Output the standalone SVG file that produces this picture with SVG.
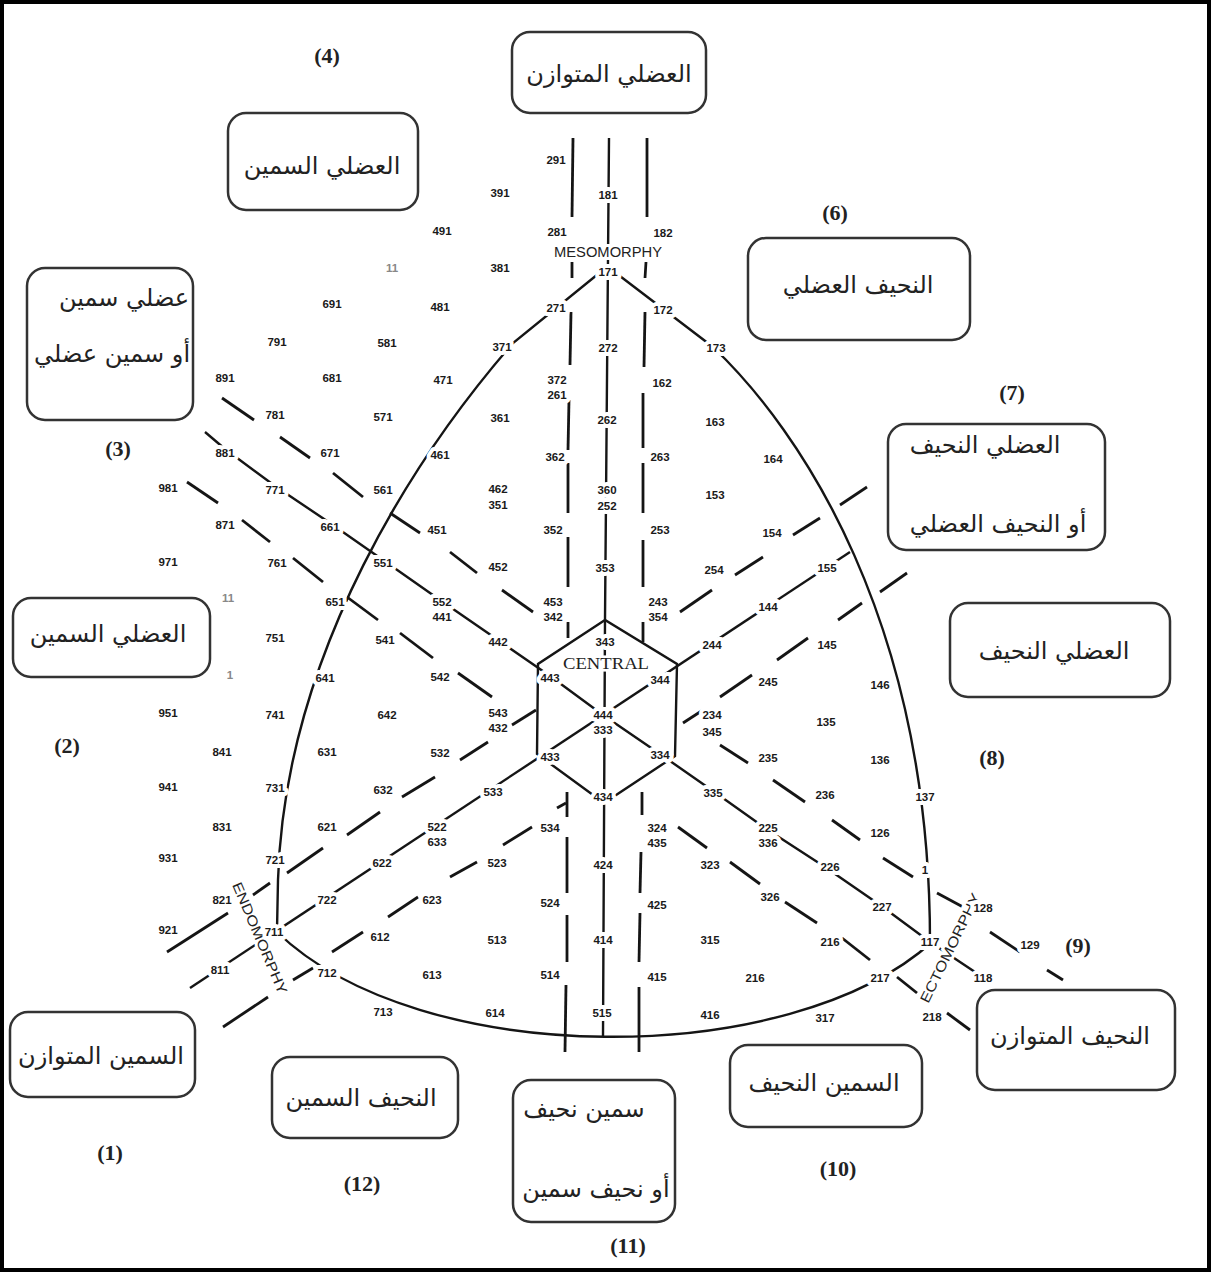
<svg xmlns="http://www.w3.org/2000/svg" width="1211" height="1272" viewBox="0 0 1211 1272">
<style>
.bg{fill:#fff}
.frame{fill:none;stroke:#000;stroke-width:4}
.box{fill:#fff;stroke:#333;stroke-width:2.5}
.ar{font-family:"DejaVu Sans",sans-serif;font-size:24px;fill:#222;text-anchor:middle}
.pn{font-family:"Liberation Serif",serif;font-weight:bold;font-size:22px;fill:#222;text-anchor:middle}
.ln{fill:none;stroke:#151515;stroke-width:2.4}
.dl line{stroke:#151515;stroke-width:2.8}
.n{font-family:"Liberation Sans",Arial,sans-serif;font-weight:bold;font-size:11.5px;fill:#1a1a1a;text-anchor:middle;stroke:#fff;stroke-width:8;paint-order:stroke;stroke-linejoin:round}
.f{fill:#888}
.cap{font-family:"Liberation Sans",Arial,sans-serif;font-size:14px;fill:#222;text-anchor:middle;stroke:#fff;stroke-width:6;paint-order:stroke}
.cen{font-family:"Liberation Serif",serif;font-size:17px;fill:#222;text-anchor:middle;stroke:#fff;stroke-width:5;paint-order:stroke}
</style>
<rect class="bg" x="0" y="0" width="1211" height="1272"/>
<rect class="frame" x="2" y="2" width="1207" height="1268"/>

<g id="connectors">
  <path class="ln" d="M603,270 L513,343 C420,450 285,650 278,880 L277,930"/>
  <path class="ln" d="M612,270 L713,347 C800,430 930,620 930,942"/>
  <path class="ln" d="M277,932 C420,1070 790,1070 932,942"/>
  <path class="ln" d="M609,138 L605,620 L603,1037"/>
  <path class="ln" d="M190,988 L850,552"/>
  <path class="ln" d="M205,432 L225,449 L275,486 L330,523 L383,560 L440,600 L498,640 L550,676 L603,715 L660,754 L713,791 L768,830 L825,867 L880,905 L930,942 L975,972"/>
  <path class="ln" d="M605,620 L538,664 L537,754 L604,803 L675,756 L677,664 Z"/>
  <g class="dl">
    <line x1="573" y1="138" x2="572" y2="217"/><line x1="572" y1="262" x2="572" y2="278"/>
    <line x1="571" y1="312" x2="570" y2="365"/><line x1="569" y1="400" x2="568" y2="450"/>
    <line x1="568" y1="463" x2="568" y2="513"/><line x1="568" y1="537" x2="568" y2="587"/>
    <line x1="568" y1="622" x2="568" y2="638"/><line x1="567" y1="792" x2="567" y2="817"/>
    <line x1="567" y1="837" x2="567" y2="893"/><line x1="567" y1="915" x2="567" y2="962"/>
    <line x1="566" y1="985" x2="565" y2="1052"/>
    <line x1="647" y1="138" x2="647" y2="217"/><line x1="646" y1="262" x2="645" y2="278"/>
    <line x1="645" y1="312" x2="644" y2="367"/><line x1="643" y1="393" x2="643" y2="448"/>
    <line x1="643" y1="463" x2="643" y2="513"/><line x1="643" y1="540" x2="643" y2="587"/>
    <line x1="643" y1="622" x2="643" y2="642"/><line x1="642" y1="792" x2="642" y2="815"/>
    <line x1="641" y1="852" x2="640" y2="893"/><line x1="640" y1="913" x2="639" y2="962"/>
    <line x1="639" y1="987" x2="639" y2="1052"/>
    <line x1="167" y1="952" x2="228" y2="913"/><line x1="253" y1="895" x2="270" y2="883"/>
    <line x1="287" y1="873" x2="323" y2="848"/><line x1="347" y1="835" x2="380" y2="812"/>
    <line x1="402" y1="797" x2="435" y2="777"/><line x1="460" y1="760" x2="488" y2="742"/>
    <line x1="512" y1="725" x2="536" y2="710"/><line x1="680" y1="612" x2="712" y2="590"/>
    <line x1="735" y1="575" x2="763" y2="557"/><line x1="793" y1="535" x2="820" y2="518"/>
    <line x1="840" y1="505" x2="867" y2="487"/>
    <line x1="223" y1="1027" x2="268" y2="997"/><line x1="293" y1="980" x2="313" y2="968"/>
    <line x1="332" y1="952" x2="363" y2="932"/><line x1="388" y1="917" x2="418" y2="897"/>
    <line x1="450" y1="877" x2="477" y2="862"/><line x1="503" y1="845" x2="532" y2="827"/>
    <line x1="557" y1="808" x2="566" y2="803"/><line x1="683" y1="723" x2="703" y2="710"/>
    <line x1="720" y1="697" x2="752" y2="675"/><line x1="777" y1="660" x2="808" y2="638"/>
    <line x1="838" y1="620" x2="862" y2="603"/><line x1="880" y1="592" x2="907" y2="573"/>
    <line x1="222" y1="398" x2="254" y2="420"/><line x1="280" y1="437" x2="310" y2="458"/>
    <line x1="333" y1="473" x2="363" y2="497"/><line x1="390" y1="513" x2="420" y2="533"/>
    <line x1="450" y1="552" x2="477" y2="573"/><line x1="502" y1="590" x2="533" y2="612"/>
    <line x1="720" y1="745" x2="748" y2="763"/><line x1="773" y1="780" x2="805" y2="802"/>
    <line x1="832" y1="820" x2="860" y2="840"/><line x1="883" y1="858" x2="913" y2="877"/>
    <line x1="937" y1="893" x2="963" y2="907"/><line x1="990" y1="932" x2="1020" y2="952"/>
    <line x1="1047" y1="970" x2="1063" y2="980"/>
    <line x1="187" y1="482" x2="218" y2="503"/><line x1="242" y1="520" x2="270" y2="542"/>
    <line x1="293" y1="558" x2="323" y2="582"/><line x1="347" y1="597" x2="378" y2="620"/>
    <line x1="400" y1="633" x2="433" y2="658"/><line x1="458" y1="673" x2="492" y2="697"/>
    <line x1="678" y1="827" x2="707" y2="848"/><line x1="730" y1="862" x2="760" y2="884"/>
    <line x1="785" y1="902" x2="817" y2="923"/><line x1="842" y1="938" x2="870" y2="960"/>
    <line x1="897" y1="977" x2="917" y2="993"/><line x1="947" y1="1013" x2="970" y2="1030"/>
  </g>
</g>

<g id="axis-titles">
  <text class="cap" x="608" y="257" textLength="108" lengthAdjust="spacingAndGlyphs">MESOMORPHY</text>
  <text class="cen" x="606" y="669" textLength="86" lengthAdjust="spacingAndGlyphs">CENTRAL</text>
  <text class="cap" x="0" y="0" transform="translate(260,938) rotate(67)" dy="5" textLength="120" lengthAdjust="spacingAndGlyphs">ENDOMORPHY</text>
  <text class="cap" x="0" y="0" transform="translate(950,948) rotate(-64)" dy="5" textLength="120" lengthAdjust="spacingAndGlyphs">ECTOMORPHY</text>
</g>

<g id="somatotype-labels">
<text class="n" x="556" y="164">291</text><text class="n" x="500" y="197">391</text><text class="n" x="608" y="199">181</text>
<text class="n" x="442" y="235">491</text><text class="n" x="557" y="236">281</text><text class="n" x="663" y="237">182</text>
<text class="n f" x="392" y="272">11</text><text class="n" x="500" y="272">381</text><text class="n" x="608" y="276">171</text>
<text class="n" x="332" y="308">691</text><text class="n" x="440" y="311">481</text><text class="n" x="556" y="312">271</text><text class="n" x="663" y="314">172</text>
<text class="n" x="277" y="346">791</text><text class="n" x="387" y="347">581</text><text class="n" x="502" y="351">371</text><text class="n" x="608" y="352">272</text><text class="n" x="716" y="352">173</text>
<text class="n" x="225" y="382">891</text><text class="n" x="332" y="382">681</text><text class="n" x="443" y="384">471</text><text class="n" x="557" y="384">372</text><text class="n" x="557" y="399">261</text><text class="n" x="662" y="387">162</text>
<text class="n" x="275" y="419">781</text><text class="n" x="383" y="421">571</text><text class="n" x="500" y="422">361</text><text class="n" x="607" y="424">262</text><text class="n" x="715" y="426">163</text>
<text class="n" x="225" y="457">881</text><text class="n" x="330" y="457">671</text><text class="n" x="440" y="459">461</text><text class="n" x="555" y="461">362</text><text class="n" x="660" y="461">263</text><text class="n" x="773" y="463">164</text>
<text class="n" x="168" y="492">981</text><text class="n" x="275" y="494">771</text><text class="n" x="383" y="494">561</text><text class="n" x="498" y="493">462</text><text class="n" x="498" y="509">351</text><text class="n" x="607" y="494">360</text><text class="n" x="607" y="510">252</text><text class="n" x="715" y="499">153</text>
<text class="n" x="225" y="529">871</text><text class="n" x="330" y="531">661</text><text class="n" x="437" y="534">451</text><text class="n" x="553" y="534">352</text><text class="n" x="660" y="534">253</text><text class="n" x="772" y="537">154</text>
<text class="n" x="168" y="566">971</text><text class="n" x="277" y="567">761</text><text class="n" x="383" y="567">551</text><text class="n" x="498" y="571">452</text><text class="n" x="605" y="572">353</text><text class="n" x="714" y="574">254</text><text class="n" x="827" y="572">155</text>
<text class="n f" x="228" y="602">11</text><text class="n" x="335" y="606">651</text><text class="n" x="442" y="606">552</text><text class="n" x="442" y="621">441</text><text class="n" x="553" y="606">453</text><text class="n" x="553" y="621">342</text><text class="n" x="658" y="606">243</text><text class="n" x="658" y="621">354</text><text class="n" x="768" y="611">144</text>
<text class="n" x="275" y="642">751</text><text class="n" x="385" y="644">541</text><text class="n" x="498" y="646">442</text><text class="n" x="605" y="646">343</text><text class="n" x="712" y="649">244</text><text class="n" x="827" y="649">145</text>
<text class="n f" x="230" y="679">1</text><text class="n" x="325" y="682">641</text><text class="n" x="440" y="681">542</text><text class="n" x="550" y="682">443</text><text class="n" x="660" y="684">344</text><text class="n" x="768" y="686">245</text><text class="n" x="880" y="689">146</text>
<text class="n" x="168" y="717">951</text><text class="n" x="275" y="719">741</text><text class="n" x="387" y="719">642</text><text class="n" x="498" y="717">543</text><text class="n" x="498" y="732">432</text><text class="n" x="603" y="719">444</text><text class="n" x="603" y="734">333</text><text class="n" x="712" y="719">234</text><text class="n" x="712" y="736">345</text><text class="n" x="826" y="726">135</text>
<text class="n" x="222" y="756">841</text><text class="n" x="327" y="756">631</text><text class="n" x="440" y="757">532</text><text class="n" x="550" y="761">433</text><text class="n" x="660" y="759">334</text><text class="n" x="768" y="762">235</text><text class="n" x="880" y="764">136</text>
<text class="n" x="168" y="791">941</text><text class="n" x="275" y="792">731</text><text class="n" x="383" y="794">632</text><text class="n" x="493" y="796">533</text><text class="n" x="603" y="801">434</text><text class="n" x="713" y="797">335</text><text class="n" x="825" y="799">236</text><text class="n" x="925" y="801">137</text>
<text class="n" x="222" y="831">831</text><text class="n" x="327" y="831">621</text><text class="n" x="437" y="831">522</text><text class="n" x="437" y="846">633</text><text class="n" x="550" y="832">534</text><text class="n" x="657" y="832">324</text><text class="n" x="657" y="847">435</text><text class="n" x="768" y="832">225</text><text class="n" x="768" y="847">336</text><text class="n" x="880" y="837">126</text>
<text class="n" x="168" y="862">931</text><text class="n" x="275" y="864">721</text><text class="n" x="382" y="867">622</text><text class="n" x="497" y="867">523</text><text class="n" x="603" y="869">424</text><text class="n" x="710" y="869">323</text><text class="n" x="830" y="871">226</text><text class="n" x="925" y="874">1</text>
<text class="n" x="222" y="904">821</text><text class="n" x="327" y="904">722</text><text class="n" x="432" y="904">623</text><text class="n" x="550" y="907">524</text><text class="n" x="657" y="909">425</text><text class="n" x="770" y="901">326</text><text class="n" x="882" y="911">227</text><text class="n" x="983" y="912">128</text>
<text class="n" x="168" y="934">921</text><text class="n" x="274" y="936">711</text><text class="n" x="380" y="941">612</text><text class="n" x="497" y="944">513</text><text class="n" x="603" y="944">414</text><text class="n" x="710" y="944">315</text><text class="n" x="830" y="946">216</text><text class="n" x="930" y="946">117</text><text class="n" x="1030" y="949">129</text>
<text class="n" x="220" y="974">811</text><text class="n" x="327" y="977">712</text><text class="n" x="432" y="979">613</text><text class="n" x="550" y="979">514</text><text class="n" x="657" y="981">415</text><text class="n" x="755" y="982">216</text><text class="n" x="880" y="982">217</text><text class="n" x="983" y="982">118</text>
<text class="n" x="383" y="1016">713</text><text class="n" x="495" y="1017">614</text><text class="n" x="602" y="1017">515</text><text class="n" x="710" y="1019">416</text><text class="n" x="825" y="1022">317</text><text class="n" x="932" y="1021">218</text>
</g>

<g id="box-1"><rect class="box" x="512" y="32" width="194" height="81" rx="18"/><text class="ar" x="609" y="82">العضلي المتوازن</text></g>
<g id="box-2"><rect class="box" x="228" y="113" width="190" height="97" rx="18"/><text class="ar" x="322" y="174">العضلي السمين</text></g>
<g id="box-3"><rect class="box" x="27" y="268" width="166" height="152" rx="18"/><text class="ar" x="124" y="306">عضلي سمين</text><text class="ar" x="112" y="362">أو سمين عضلي</text></g>
<g id="box-4"><rect class="box" x="748" y="238" width="222" height="102" rx="18"/><text class="ar" x="858" y="293">النحيف العضلي</text></g>
<g id="box-5"><rect class="box" x="888" y="424" width="217" height="126" rx="18"/><text class="ar" x="985" y="453">العضلي النحيف</text><text class="ar" x="998" y="532">أو النحيف العضلي</text></g>
<g id="box-6"><rect class="box" x="950" y="603" width="220" height="94" rx="18"/><text class="ar" x="1054" y="659">العضلي النحيف</text></g>
<g id="box-7"><rect class="box" x="13" y="598" width="197" height="79" rx="18"/><text class="ar" x="108" y="642">العضلي السمين</text></g>
<g id="box-8"><rect class="box" x="10" y="1012" width="185" height="85" rx="18"/><text class="ar" x="101" y="1064">السمين المتوازن</text></g>
<g id="box-9"><rect class="box" x="272" y="1057" width="186" height="81" rx="18"/><text class="ar" x="361" y="1106">النحيف السمين</text></g>
<g id="box-10"><rect class="box" x="513" y="1080" width="162" height="142" rx="18"/><text class="ar" x="584" y="1117">سمين نحيف</text><text class="ar" x="596" y="1197">أو نحيف سمين</text></g>
<g id="box-11"><rect class="box" x="730" y="1045" width="192" height="82" rx="18"/><text class="ar" x="824" y="1091">السمين النحيف</text></g>
<g id="box-12"><rect class="box" x="977" y="990" width="198" height="100" rx="18"/><text class="ar" x="1070" y="1044">النحيف المتوازن</text></g>

<g id="numbers">
<text class="pn" x="327" y="63">(4)</text>
<text class="pn" x="835" y="220">(6)</text>
<text class="pn" x="1012" y="400">(7)</text>
<text class="pn" x="118" y="456">(3)</text>
<text class="pn" x="67" y="753">(2)</text>
<text class="pn" x="992" y="765">(8)</text>
<text class="pn" x="1078" y="953">(9)</text>
<text class="pn" x="110" y="1160">(1)</text>
<text class="pn" x="362" y="1191">(12)</text>
<text class="pn" x="838" y="1176">(10)</text>
<text class="pn" x="628" y="1253">(11)</text>
</g>
</svg>
